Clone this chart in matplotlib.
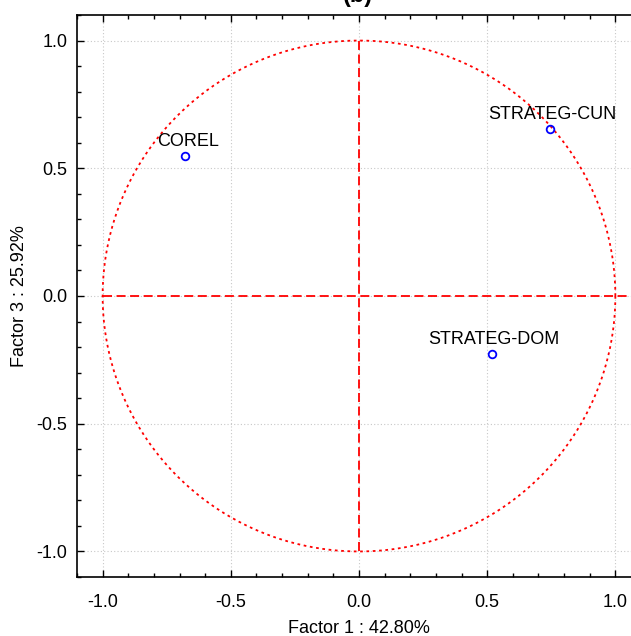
import numpy as np
import matplotlib
matplotlib.use('Agg')
import matplotlib.pyplot as plt
from matplotlib.ticker import MultipleLocator

plt.rcParams['font.family'] = ['Liberation Sans', 'DejaVu Sans']

# variable loadings (Factor 1 vs Factor 3)
var_names = ['COREL', 'STRATEG-CUN', 'STRATEG-DOM']
factor1 = [-0.678, 0.745, 0.517]
factor3 = [0.548, 0.654, -0.227]

xlab = 'Factor 1 : 42.80%'
ylab = 'Factor 3 : 25.92%'

fig = plt.figure(figsize=(6.31, 6.36), dpi=100)
ax = fig.add_axes([77/631, 59/636, 564/631, 562/636])

# unit circle
t = np.linspace(0, 2*np.pi, 400)
ax.plot(np.cos(t), np.sin(t), color='red', lw=1.3, linestyle=(0, (1.5, 2)))
# cross lines
ax.plot([-1, 1.1], [0, 0], color='red', lw=1.3, linestyle=(0, (5, 2.5)))
ax.plot([0, 0], [-1, 1], color='red', lw=1.3, linestyle=(0, (5, 2.5)))

ax.plot(factor1, factor3, 'o', mfc='none', mec='blue', ms=5.5, mew=1.3)
# labels sit just above each point
for name, x, y in zip(var_names, factor1, factor3):
    ax.annotate(name, (x, y), xytext=(2, 10.5), textcoords='offset points',
                ha='center', va='center', fontsize=13, color='black')

ax.set_xlim(-1.1, 1.1)
ax.set_ylim(-1.1, 1.1)
ax.xaxis.set_major_locator(MultipleLocator(0.5))
ax.yaxis.set_major_locator(MultipleLocator(0.5))
ax.xaxis.set_minor_locator(MultipleLocator(0.1))
ax.yaxis.set_minor_locator(MultipleLocator(0.1))
ax.tick_params(which='both', direction='in', top=True, right=True, labelsize=13)
ax.tick_params(axis='x', which='both', pad=12)
ax.tick_params(axis='y', which='both', pad=7)
ax.tick_params(which='major', length=5, width=1)
ax.tick_params(which='minor', length=3, width=1)
ax.xaxis.set_major_formatter(plt.FuncFormatter(lambda v, p: '%.1f' % v))
ax.yaxis.set_major_formatter(plt.FuncFormatter(lambda v, p: '%.1f' % v))
ax.grid(True, which='major', color='#c8c8c8', linestyle=(0, (1, 2)), lw=0.8)
ax.set_axisbelow(True)
for s in ax.spines.values():
    s.set_linewidth(1.2)

ax.set_xlabel(xlab, fontsize=13, labelpad=7)
ax.set_ylabel(ylab, fontsize=13, labelpad=6)

fig.text(358/631, 1 - 7/636, '(b)', ha='center', va='bottom', fontsize=17, fontweight='bold')

fig.savefig('out.png', dpi=100)
